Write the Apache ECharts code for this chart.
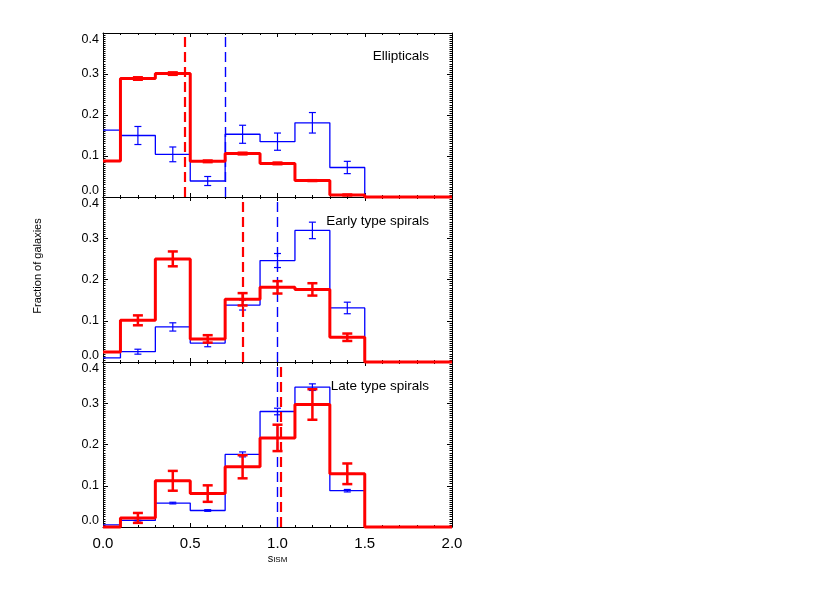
<!DOCTYPE html>
<html>
<head>
<meta charset="utf-8">
<script src="https://cdn.jsdelivr.net/npm/echarts@6/dist/echarts.min.js"></script>
<style>
  html, body { margin: 0; padding: 0; background: #fff; }
  #chart { width: 830px; height: 593px; }
</style>
</head>
<body>
<div id="chart"></div>
<script>
// bin centres (histogram drawn as steps between centres)
const binCenters = [0.0, 0.2, 0.4, 0.6, 0.8, 1.0, 1.2, 1.4, 1.6, 1.8, 2.0]
const errCenters = [0.2, 0.4, 0.6, 0.8, 1.0, 1.2, 1.4]
const panelTitles = ['Ellipticals', 'Early type spirals', 'Late type spirals']

// Ellipticals
const ellRed = [0.088, 0.289, 0.301, 0.087, 0.106, 0.082, 0.040, 0.005, 0, 0, 0]
const ellRedErr = [0.003, 0.003, 0.002, 0.002, 0.002, 0.001, 0.001]
const ellBlue = [0.163, 0.150, 0.104, 0.039, 0.153, 0.135, 0.181, 0.072, 0, 0, 0]
const ellBlueErr = [0.022, 0.018, 0.011, 0.022, 0.021, 0.025, 0.015]
const ellMedian = { red: 0.465, blue: 0.697 }

// Early type spirals
const earlyRed = [0.024, 0.101, 0.250, 0.056, 0.152, 0.181, 0.176, 0.060, 0, 0, 0]
const earlyRedErr = [0.012, 0.018, 0.009, 0.015, 0.015, 0.015, 0.009]
const earlyBlue = [0.010, 0.025, 0.085, 0.046, 0.138, 0.246, 0.319, 0.131, 0, 0, 0]
const earlyBlueErr = [0.006, 0.010, 0.009, 0.012, 0.017, 0.020, 0.014]
const earlyMedian = { red: 0.804, blue: 1.005 }

// Late type spirals
const lateRed = [0.0, 0.022, 0.112, 0.081, 0.146, 0.216, 0.297, 0.129, 0, 0, 0]
const lateRedErr = [0.012, 0.024, 0.020, 0.028, 0.032, 0.037, 0.025]
const lateBlue = [0.005, 0.016, 0.058, 0.040, 0.176, 0.280, 0.339, 0.088, 0, 0, 0]
const lateBlueErr = [0.004, 0.002, 0.002, 0.006, 0.008, 0.008, 0.003]
const lateMedian = { red: 1.02, blue: 1.005 }

const panels = [
  { red: ellRed, redErr: ellRedErr, blue: ellBlue, blueErr: ellBlueErr, median: ellMedian },
  { red: earlyRed, redErr: earlyRedErr, blue: earlyBlue, blueErr: earlyBlueErr, median: earlyMedian },
  { red: lateRed, redErr: lateRedErr, blue: lateBlue, blueErr: lateBlueErr, median: lateMedian }
]

const RED = '#ff0000'
const BLUE = '#0000ff'
const FONT = 'Liberation Sans'

const gridTops = [33, 197, 362]
const gridHeights = [164, 165, 165]
const GRID_LEFT = 103
const GRID_WIDTH = 349

const chart = echarts.init(document.getElementById('chart'))

const grids = []
const xAxes = []
const yAxes = []
const series = []

const axisLine = { show: true, onZero: false, lineStyle: { color: '#000', width: 1 } }

// error bar renderer
const makeErrRender = (capHalf, width, color) => (params, api) => {
  const x = api.value(0)
  const y = api.value(1)
  const e = api.value(2)
  const lo = api.coord([x, y - e])
  const hi = api.coord([x, y + e])
  const style = { stroke: color, lineWidth: width }
  return {
    type: 'group',
    children: [
      { type: 'line', shape: { x1: lo[0], y1: lo[1], x2: hi[0], y2: hi[1] }, style },
      { type: 'line', shape: { x1: lo[0] - capHalf, y1: lo[1], x2: lo[0] + capHalf, y2: lo[1] }, style },
      { type: 'line', shape: { x1: hi[0] - capHalf, y1: hi[1], x2: hi[0] + capHalf, y2: hi[1] }, style }
    ]
  }
}

panels.forEach((p, i) => {
  const last = i === panels.length - 1
  grids.push({ left: GRID_LEFT, width: GRID_WIDTH, top: gridTops[i], height: gridHeights[i] })

  // bottom x axis
  xAxes.push({
    type: 'value', gridIndex: i, min: 0, max: 2, interval: 0.5,
    axisLine,
    axisTick: { show: true, inside: true, length: 4, lineStyle: { color: '#000' } },
    minorTick: { show: true, splitNumber: 5, length: 2, lineStyle: { color: '#000' } },
    splitLine: { show: false },
    axisLabel: {
      show: last, fontSize: 15, fontFamily: FONT, color: '#000', margin: 9,
      formatter: v => v.toFixed(1)
    },
    name: last ? '{a|s}{b|ISM}' : '',
    nameLocation: 'middle',
    nameGap: 25,
    nameTextStyle: {
      rich: {
        a: { fontSize: 11, fontFamily: FONT, color: '#000', verticalAlign: 'bottom', lineHeight: 12 },
        b: { fontSize: 8, fontFamily: FONT, color: '#000', verticalAlign: 'bottom', lineHeight: 9 }
      }
    }
  })
  // top x axis (ticks only)
  xAxes.push({
    type: 'value', gridIndex: i, min: 0, max: 2, interval: 0.5, position: 'top',
    axisLine,
    axisTick: { show: true, inside: true, length: 4, lineStyle: { color: '#000' } },
    minorTick: { show: true, splitNumber: 5, length: 2, lineStyle: { color: '#000' } },
    splitLine: { show: false },
    axisLabel: { show: false }
  })
  // left y axis
  yAxes.push({
    type: 'value', gridIndex: i, min: 0, max: 0.4, interval: 0.1,
    axisLine,
    axisTick: { show: true, inside: true, length: 5, lineStyle: { color: '#000' } },
    minorTick: { show: true, splitNumber: 20, length: 2.5, lineStyle: { color: '#000' } },
    splitLine: { show: false },
    axisLabel: {
      fontSize: 12.5, fontFamily: FONT, color: '#000', margin: 4,
      verticalAlignMinLabel: 'bottom', verticalAlignMaxLabel: 'top',
      formatter: v => v.toFixed(1)
    }
  })
  // right y axis (ticks only)
  yAxes.push({
    type: 'value', gridIndex: i, min: 0, max: 0.4, interval: 0.1, position: 'right',
    axisLine,
    axisTick: { show: true, inside: true, length: 5, lineStyle: { color: '#000' } },
    minorTick: { show: true, splitNumber: 20, length: 2.5, lineStyle: { color: '#000' } },
    splitLine: { show: false },
    axisLabel: { show: false }
  })

  const xi = 2 * i
  const yi = 2 * i

  series.push({
    type: 'line', xAxisIndex: xi, yAxisIndex: yi, step: 'middle', symbol: 'none',
    clip: false, z: 3,
    lineStyle: { color: BLUE, width: 1.3 },
    data: binCenters.map((x, k) => [x, p.blue[k]]),
    markLine: {
      silent: true, symbol: 'none', label: { show: false },
      lineStyle: { color: BLUE, width: 1.4, type: [10, 5], opacity: 1 },
      data: [{ xAxis: p.median.blue }]
    }
  })
  series.push({
    type: 'custom', xAxisIndex: xi, yAxisIndex: yi, z: 4,
    renderItem: makeErrRender(3.5, 1.2, BLUE),
    encode: { x: 0, y: 1 },
    data: errCenters.map((x, k) => [x, p.blue[k + 1], p.blueErr[k]])
  })
  series.push({
    type: 'line', xAxisIndex: xi, yAxisIndex: yi, step: 'middle', symbol: 'none',
    clip: false, z: 5,
    lineStyle: { color: RED, width: 3 },
    data: binCenters.map((x, k) => [x, p.red[k]]),
    markLine: {
      silent: true, symbol: 'none', label: { show: false },
      lineStyle: { color: RED, width: 2.2, type: [10, 5], opacity: 1 },
      data: [{ xAxis: p.median.red }]
    }
  })
  series.push({
    type: 'custom', xAxisIndex: xi, yAxisIndex: yi, z: 6,
    renderItem: makeErrRender(5, 2.5, RED),
    encode: { x: 0, y: 1 },
    data: errCenters.map((x, k) => [x, p.red[k + 1], p.redErr[k]])
  })
})

const titleY = [56, 221, 386]

const option = {
  animation: false,
  backgroundColor: '#fff',
  grid: grids,
  xAxis: xAxes,
  yAxis: yAxes,
  series,
  graphic: [
    ...panelTitles.map((t, i) => ({
      type: 'text', x: 429, y: titleY[i], z: 10,
      style: { text: t, textAlign: 'right', textVerticalAlign: 'middle',
        font: `13.5px "${FONT}"`, fill: '#000' }
    })),
    {
      type: 'text', x: 38, y: 266, rotation: Math.PI / 2,
      style: { text: 'Fraction of galaxies', textAlign: 'center', textVerticalAlign: 'middle',
        font: `11px "${FONT}"`, fill: '#000' }
    }
  ]
}

chart.setOption(option)
</script>
</body>
</html>
